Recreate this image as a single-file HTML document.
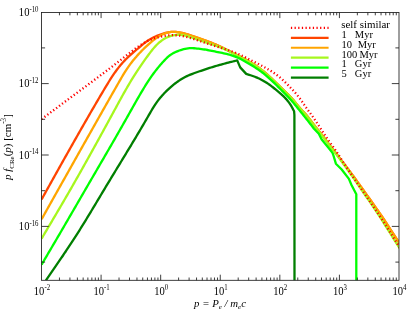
<!DOCTYPE html>
<html>
<head>
<meta charset="utf-8">
<title>CR electron spectrum</title>
<style>
html, body { margin: 0; padding: 0; background: #ffffff; }
body { width: 415px; height: 312px; overflow: hidden; }
svg { display: block; font-family: 'Liberation Serif', serif; will-change: transform; }
text { fill: #000; }
</style>
</head>
<body>
<svg width="415" height="312" viewBox="0 0 415 312">
<rect x="0" y="0" width="415" height="312" fill="#ffffff"/>
<defs><clipPath id="plot"><rect x="41.50" y="12.50" width="357.50" height="267.80"/></clipPath></defs>
<g clip-path="url(#plot)">
<path d="M41.60 199.40 L42.33 198.09 L43.06 196.78 L43.79 195.46 L44.53 194.15 L45.26 192.84 L45.99 191.53 L46.72 190.21 L47.45 188.90 L48.18 187.59 L48.92 186.28 L49.65 184.97 L50.38 183.65 L51.11 182.34 L51.84 181.03 L52.58 179.72 L53.31 178.41 L54.04 177.09 L54.77 175.78 L55.51 174.47 L56.24 173.16 L56.97 171.85 L57.71 170.54 L58.44 169.23 L59.17 167.92 L59.91 166.61 L60.64 165.30 L61.38 163.98 L62.11 162.67 L62.85 161.36 L63.58 160.05 L64.32 158.74 L65.06 157.44 L65.79 156.13 L66.53 154.82 L67.27 153.51 L68.00 152.20 L68.74 150.89 L69.48 149.58 L70.22 148.27 L70.96 146.97 L71.70 145.66 L72.44 144.35 L73.18 143.04 L73.92 141.74 L74.66 140.43 L75.40 139.12 L76.14 137.82 L76.88 136.51 L77.63 135.20 L78.37 133.90 L79.11 132.59 L79.86 131.29 L80.60 129.98 L81.35 128.68 L82.09 127.38 L82.84 126.07 L83.58 124.77 L84.33 123.47 L85.08 122.16 L85.83 120.86 L86.58 119.56 L87.33 118.26 L88.08 116.95 L88.83 115.65 L89.58 114.35 L90.33 113.05 L91.08 111.75 L91.84 110.45 L92.59 109.15 L93.35 107.85 L94.10 106.56 L94.86 105.26 L95.61 103.96 L96.37 102.66 L97.13 101.37 L97.89 100.07 L98.65 98.78 L99.41 97.48 L100.18 96.19 L100.94 94.89 L101.71 93.60 L102.47 92.31 L103.24 91.02 L104.01 89.73 L104.78 88.44 L105.55 87.15 L106.32 85.86 L107.10 84.57 L107.88 83.29 L108.67 82.01 L109.46 80.73 L110.26 79.46 L111.07 78.20 L111.89 76.94 L112.72 75.68 L113.56 74.44 L114.41 73.20 L115.28 71.97 L116.16 70.75 L117.06 69.54 L117.97 68.34 L118.90 67.16 L119.85 65.98 L120.81 64.83 L121.79 63.68 L122.78 62.56 L123.80 61.44 L124.83 60.35 L125.88 59.28 L126.95 58.22 L128.04 57.19 L129.14 56.17 L130.26 55.17 L131.39 54.19 L132.53 53.20 L133.67 52.22 L134.81 51.23 L135.94 50.25 L137.08 49.25 L138.22 48.26 L139.36 47.28 L140.51 46.30 L141.66 45.34 L142.83 44.39 L144.01 43.46 L145.20 42.55 L146.42 41.67 L147.65 40.82 L148.90 40.00 L150.18 39.21 L151.48 38.47 L152.80 37.75 L154.15 37.08 L155.51 36.44 L156.89 35.83 L158.28 35.26 L159.70 34.72 L161.12 34.22 L162.56 33.75 L164.02 33.32 L165.48 32.92 L166.95 32.57 L168.43 32.28 L169.92 32.05 L171.41 31.89 L172.91 31.81 L174.41 31.82 L175.91 31.91 L177.40 32.07 L178.89 32.30 L180.38 32.57 L181.85 32.89 L183.31 33.24 L184.76 33.62 L186.21 34.02 L187.65 34.45 L189.09 34.90 L190.52 35.36 L191.94 35.84 L193.37 36.32 L194.79 36.80 L196.22 37.28 L197.64 37.77 L199.06 38.25 L200.48 38.74 L201.90 39.24 L203.32 39.74 L204.73 40.25 L206.14 40.76 L207.55 41.29 L208.95 41.82 L210.35 42.37 L211.75 42.92 L213.14 43.49 L214.52 44.07 L215.91 44.66 L217.28 45.26 L218.66 45.87 L220.02 46.50 L221.39 47.13 L222.74 47.78 L224.09 48.44 L225.44 49.11 L226.78 49.78 L228.12 50.47 L229.45 51.16 L230.78 51.85 L232.12 52.54 L233.45 53.24 L234.78 53.93 L236.12 54.61 L237.46 55.30 L238.79 55.98 L240.13 56.67 L241.47 57.36 L242.80 58.05 L244.13 58.75 L245.45 59.46 L246.77 60.18 L248.08 60.92 L249.39 61.66 L250.68 62.43 L251.97 63.21 L253.24 64.00 L254.51 64.82 L255.76 65.65 L257.00 66.50 L258.23 67.36 L259.45 68.24 L260.66 69.14 L261.85 70.06 L263.03 70.99 L264.19 71.94 L265.34 72.91 L266.48 73.89 L267.61 74.89 L268.72 75.89 L269.83 76.91 L270.93 77.93 L272.02 78.96 L273.11 80.00 L274.20 81.03 L275.29 82.07 L276.37 83.11 L277.45 84.16 L278.53 85.20 L279.61 86.24 L280.69 87.29 L281.76 88.34 L282.84 89.38 L283.92 90.43 L285.00 91.48 L286.07 92.53 L287.15 93.58 L288.22 94.64 L289.27 95.71 L290.32 96.79 L291.35 97.88 L292.36 98.99 L293.34 100.12 L294.31 101.27 L295.26 102.44 L296.20 103.61 L297.15 104.78 L298.10 105.94 L299.06 107.10 L300.04 108.23 L301.04 109.35 L302.06 110.46 L303.09 111.55 L304.11 112.65 L305.13 113.76 L306.13 114.88 L307.11 116.01 L308.06 117.17 L309.00 118.35 L309.92 119.53 L310.84 120.73 L311.74 121.92 L312.65 123.13 L313.55 124.33 L314.47 125.52 L315.39 126.71 L316.31 127.89 L317.25 129.07 L318.19 130.24 L319.12 131.42 L320.06 132.59 L321.00 133.77 L321.92 134.95 L322.85 136.13 L323.76 137.32 L324.67 138.52 L325.57 139.72 L326.48 140.92 L327.38 142.12 L328.29 143.32 L329.20 144.51 L330.11 145.71 L331.03 146.90 L331.95 148.08 L332.87 149.27 L333.79 150.45 L334.72 151.64 L335.64 152.83 L336.56 154.02 L337.47 155.21 L338.39 156.40 L339.30 157.59 L340.21 158.79 L341.12 159.98 L342.03 161.18 L342.94 162.37 L343.85 163.56 L344.76 164.76 L345.67 165.96 L346.58 167.15 L347.49 168.35 L348.39 169.55 L349.29 170.75 L350.19 171.96 L351.08 173.16 L351.97 174.37 L352.86 175.58 L353.75 176.80 L354.63 178.01 L355.51 179.23 L356.39 180.45 L357.27 181.66 L358.15 182.88 L359.03 184.11 L359.90 185.33 L360.77 186.55 L361.65 187.77 L362.52 188.99 L363.39 190.22 L364.27 191.44 L365.14 192.66 L366.01 193.88 L366.89 195.11 L367.76 196.33 L368.63 197.55 L369.51 198.78 L370.38 200.00 L371.25 201.22 L372.12 202.45 L372.99 203.67 L373.85 204.90 L374.72 206.13 L375.58 207.36 L376.44 208.59 L377.30 209.82 L378.16 211.06 L379.01 212.29 L379.86 213.53 L380.71 214.77 L381.55 216.01 L382.39 217.26 L383.23 218.51 L384.07 219.75 L384.90 221.00 L385.73 222.26 L386.56 223.51 L387.38 224.76 L388.21 226.02 L389.03 227.28 L389.86 228.53 L390.68 229.79 L391.50 231.05 L392.32 232.31 L393.14 233.57 L393.96 234.83 L394.78 236.09 L395.60 237.34 L396.42 238.60 L397.24 239.86 L398.06 241.12 L398.88 242.38 L399.71 243.63 L400.53 244.89 L401.36 246.14 L402.19 247.39 L403.02 248.65 L403.85 249.90" fill="none" stroke="#ff4500" stroke-width="2.30" stroke-linejoin="round" />
<path d="M41.60 219.20 L42.34 217.89 L43.07 216.58 L43.81 215.27 L44.55 213.96 L45.28 212.64 L46.02 211.33 L46.76 210.02 L47.49 208.71 L48.23 207.40 L48.97 206.09 L49.70 204.78 L50.44 203.47 L51.18 202.15 L51.91 200.84 L52.65 199.53 L53.39 198.22 L54.12 196.91 L54.86 195.60 L55.60 194.29 L56.33 192.98 L57.07 191.67 L57.81 190.36 L58.54 189.04 L59.28 187.73 L60.02 186.42 L60.75 185.11 L61.49 183.80 L62.23 182.49 L62.97 181.18 L63.70 179.87 L64.44 178.56 L65.18 177.25 L65.91 175.94 L66.65 174.62 L67.39 173.31 L68.13 172.00 L68.86 170.69 L69.60 169.38 L70.34 168.07 L71.08 166.76 L71.81 165.45 L72.55 164.14 L73.29 162.83 L74.03 161.52 L74.76 160.21 L75.50 158.90 L76.24 157.59 L76.98 156.28 L77.72 154.97 L78.45 153.66 L79.19 152.35 L79.93 151.04 L80.67 149.73 L81.41 148.42 L82.14 147.11 L82.88 145.80 L83.62 144.49 L84.36 143.18 L85.10 141.87 L85.84 140.56 L86.58 139.25 L87.32 137.94 L88.05 136.63 L88.79 135.32 L89.53 134.01 L90.27 132.70 L91.01 131.39 L91.75 130.08 L92.49 128.77 L93.23 127.46 L93.97 126.15 L94.71 124.84 L95.45 123.53 L96.19 122.22 L96.93 120.91 L97.67 119.60 L98.41 118.30 L99.15 116.99 L99.89 115.68 L100.63 114.37 L101.37 113.06 L102.11 111.75 L102.85 110.44 L103.59 109.13 L104.33 107.83 L105.07 106.52 L105.81 105.21 L106.55 103.90 L107.30 102.59 L108.04 101.28 L108.78 99.98 L109.52 98.67 L110.26 97.36 L111.01 96.05 L111.75 94.75 L112.49 93.44 L113.24 92.13 L113.98 90.83 L114.73 89.52 L115.47 88.21 L116.22 86.91 L116.96 85.60 L117.71 84.30 L118.46 82.99 L119.21 81.69 L119.95 80.38 L120.70 79.08 L121.45 77.77 L122.21 76.47 L122.98 75.18 L123.75 73.89 L124.53 72.61 L125.33 71.33 L126.15 70.07 L126.98 68.81 L127.83 67.57 L128.69 66.34 L129.57 65.12 L130.46 63.90 L131.37 62.71 L132.30 61.52 L133.24 60.34 L134.19 59.18 L135.15 58.02 L136.13 56.88 L137.12 55.75 L138.12 54.64 L139.14 53.53 L140.17 52.43 L141.21 51.35 L142.26 50.27 L143.33 49.21 L144.40 48.16 L145.49 47.12 L146.60 46.09 L147.71 45.07 L148.84 44.06 L149.97 43.06 L151.12 42.07 L152.29 41.11 L153.48 40.16 L154.68 39.25 L155.90 38.36 L157.15 37.51 L158.42 36.70 L159.71 35.93 L161.04 35.22 L162.39 34.55 L163.77 33.94 L165.19 33.40 L166.63 32.92 L168.09 32.52 L169.57 32.20 L171.07 31.97 L172.57 31.83 L174.07 31.80 L175.57 31.87 L177.07 32.02 L178.56 32.24 L180.05 32.51 L181.52 32.82 L182.99 33.17 L184.44 33.54 L185.89 33.94 L187.34 34.37 L188.77 34.81 L190.21 35.27 L191.64 35.74 L193.07 36.22 L194.49 36.70 L195.92 37.18 L197.34 37.66 L198.77 38.15 L200.19 38.64 L201.61 39.13 L203.03 39.63 L204.44 40.14 L205.85 40.65 L207.26 41.18 L208.67 41.71 L210.07 42.26 L211.47 42.81 L212.86 43.38 L214.25 43.95 L215.64 44.54 L217.02 45.14 L218.39 45.76 L219.76 46.38 L221.12 47.01 L222.48 47.66 L223.84 48.31 L225.18 48.98 L226.53 49.66 L227.87 50.34 L229.20 51.03 L230.54 51.72 L231.87 52.41 L233.21 53.11 L234.54 53.80 L235.88 54.49 L237.22 55.18 L238.56 55.86 L239.89 56.55 L241.23 57.24 L242.57 57.93 L243.90 58.63 L245.22 59.34 L246.54 60.06 L247.86 60.79 L249.16 61.54 L250.46 62.30 L251.75 63.08 L253.03 63.87 L254.30 64.68 L255.55 65.51 L256.80 66.36 L258.03 67.22 L259.26 68.10 L260.47 69.00 L261.66 69.91 L262.84 70.84 L264.01 71.79 L265.16 72.76 L266.30 73.74 L267.43 74.73 L268.55 75.74 L269.66 76.75 L270.76 77.78 L271.86 78.81 L272.95 79.84 L274.04 80.88 L275.13 81.92 L276.21 82.96 L277.29 84.00 L278.38 85.05 L279.46 86.09 L280.53 87.14 L281.61 88.19 L282.69 89.24 L283.77 90.29 L284.85 91.34 L285.93 92.39 L287.00 93.44 L288.07 94.50 L289.13 95.56 L290.18 96.64 L291.22 97.73 L292.23 98.84 L293.22 99.98 L294.19 101.12 L295.14 102.29 L296.09 103.46 L297.03 104.63 L297.98 105.80 L298.94 106.96 L299.92 108.10 L300.92 109.22 L301.94 110.32 L302.97 111.42 L303.99 112.52 L305.01 113.63 L306.02 114.74 L307.00 115.88 L307.96 117.04 L308.90 118.21 L309.82 119.40 L310.74 120.59 L311.64 121.79 L312.55 123.00 L313.46 124.20 L314.37 125.40 L315.29 126.59 L316.22 127.77 L317.15 128.95 L318.09 130.12 L319.03 131.30 L319.97 132.47 L320.90 133.65 L321.83 134.83 L322.76 136.02 L323.67 137.21 L324.58 138.41 L325.49 139.61 L326.39 140.81 L327.30 142.01 L328.20 143.21 L329.11 144.41 L330.03 145.60 L330.95 146.79 L331.87 147.98 L332.79 149.17 L333.71 150.35 L334.64 151.54 L335.56 152.73 L336.48 153.92 L337.40 155.11 L338.31 156.30 L339.23 157.50 L340.14 158.69 L341.05 159.89 L341.96 161.09 L342.87 162.28 L343.79 163.48 L344.70 164.67 L345.61 165.87 L346.52 167.07 L347.42 168.27 L348.33 169.47 L349.23 170.67 L350.13 171.88 L351.02 173.09 L351.92 174.30 L352.81 175.51 L353.69 176.72 L354.58 177.94 L355.46 179.16 L356.34 180.37 L357.22 181.59 L358.10 182.82 L358.98 184.04 L359.85 185.26 L360.73 186.48 L361.60 187.71 L362.48 188.93 L363.35 190.16 L364.22 191.38 L365.10 192.60 L365.97 193.83 L366.85 195.05 L367.72 196.27 L368.60 197.50 L369.47 198.72 L370.34 199.95 L371.21 201.17 L372.08 202.40 L372.95 203.63 L373.82 204.86 L374.69 206.09 L375.55 207.32 L376.41 208.55 L377.27 209.78 L378.13 211.02 L378.98 212.25 L379.83 213.49 L380.68 214.74 L381.53 215.98 L382.37 217.23 L383.21 218.47 L384.05 219.72 L384.88 220.97 L385.71 222.23 L386.54 223.48 L387.37 224.74 L388.19 225.99 L389.02 227.25 L389.84 228.51 L390.66 229.77 L391.48 231.03 L392.30 232.29 L393.13 233.55 L393.95 234.81 L394.77 236.07 L395.59 237.33 L396.41 238.59 L397.23 239.85 L398.05 241.11 L398.88 242.37 L399.70 243.63 L400.53 244.88 L401.36 246.14 L402.19 247.39 L403.02 248.65 L403.85 249.90" fill="none" stroke="#ffa500" stroke-width="2.30" stroke-linejoin="round" />
<path d="M41.60 238.60 L42.37 237.31 L43.13 236.02 L43.90 234.72 L44.67 233.43 L45.43 232.14 L46.20 230.84 L46.96 229.55 L47.73 228.26 L48.50 226.97 L49.26 225.67 L50.03 224.38 L50.79 223.09 L51.56 221.79 L52.32 220.50 L53.09 219.21 L53.85 217.91 L54.61 216.62 L55.38 215.32 L56.14 214.03 L56.90 212.73 L57.66 211.44 L58.42 210.14 L59.18 208.85 L59.94 207.55 L60.70 206.26 L61.46 204.96 L62.22 203.66 L62.98 202.36 L63.73 201.07 L64.49 199.77 L65.25 198.47 L66.00 197.17 L66.75 195.87 L67.51 194.57 L68.26 193.27 L69.01 191.97 L69.76 190.67 L70.51 189.37 L71.26 188.07 L72.01 186.76 L72.76 185.46 L73.50 184.16 L74.25 182.85 L74.99 181.55 L75.74 180.25 L76.48 178.94 L77.22 177.63 L77.96 176.33 L78.70 175.02 L79.44 173.71 L80.18 172.41 L80.92 171.10 L81.66 169.79 L82.39 168.48 L83.13 167.17 L83.86 165.86 L84.60 164.55 L85.33 163.24 L86.06 161.93 L86.80 160.62 L87.53 159.31 L88.26 158.00 L88.99 156.68 L89.72 155.37 L90.45 154.06 L91.18 152.74 L91.91 151.43 L92.63 150.12 L93.36 148.80 L94.09 147.49 L94.81 146.17 L95.54 144.86 L96.27 143.54 L96.99 142.23 L97.72 140.91 L98.44 139.59 L99.16 138.28 L99.89 136.96 L100.61 135.64 L101.33 134.32 L102.05 133.01 L102.78 131.69 L103.50 130.37 L104.22 129.05 L104.94 127.73 L105.66 126.41 L106.38 125.09 L107.10 123.77 L107.82 122.45 L108.54 121.13 L109.26 119.81 L109.98 118.49 L110.70 117.17 L111.42 115.85 L112.14 114.53 L112.85 113.21 L113.57 111.89 L114.29 110.57 L115.01 109.25 L115.73 107.93 L116.45 106.60 L117.17 105.28 L117.89 103.96 L118.61 102.64 L119.33 101.32 L120.05 100.00 L120.78 98.69 L121.50 97.37 L122.23 96.06 L122.97 94.74 L123.70 93.43 L124.44 92.12 L125.18 90.81 L125.92 89.51 L126.67 88.20 L127.42 86.90 L128.18 85.60 L128.94 84.31 L129.70 83.01 L130.47 81.72 L131.24 80.44 L132.02 79.15 L132.81 77.87 L133.60 76.60 L134.40 75.32 L135.20 74.05 L136.01 72.79 L136.82 71.53 L137.65 70.27 L138.48 69.02 L139.31 67.77 L140.16 66.53 L141.00 65.29 L141.86 64.06 L142.72 62.83 L143.59 61.60 L144.46 60.38 L145.34 59.16 L146.22 57.94 L147.11 56.72 L148.00 55.51 L148.90 54.31 L149.80 53.10 L150.71 51.90 L151.63 50.71 L152.56 49.54 L153.52 48.38 L154.50 47.24 L155.51 46.13 L156.55 45.04 L157.62 43.98 L158.73 42.96 L159.87 41.98 L161.05 41.04 L162.27 40.16 L163.52 39.32 L164.81 38.55 L166.14 37.83 L167.49 37.18 L168.88 36.60 L170.31 36.09 L171.76 35.67 L173.23 35.32 L174.72 35.05 L176.22 34.87 L177.73 34.78 L179.23 34.77 L180.73 34.85 L182.22 35.02 L183.69 35.26 L185.16 35.56 L186.62 35.93 L188.07 36.34 L189.52 36.79 L190.96 37.26 L192.39 37.76 L193.83 38.26 L195.25 38.77 L196.68 39.26 L198.10 39.76 L199.53 40.25 L200.95 40.73 L202.37 41.22 L203.79 41.70 L205.21 42.17 L206.63 42.65 L208.05 43.12 L209.48 43.59 L210.90 44.06 L212.33 44.53 L213.75 45.01 L215.18 45.50 L216.60 45.99 L218.02 46.50 L219.43 47.02 L220.83 47.55 L222.22 48.11 L223.61 48.69 L224.98 49.29 L226.35 49.91 L227.71 50.55 L229.06 51.21 L230.41 51.87 L231.75 52.55 L233.09 53.23 L234.43 53.91 L235.77 54.59 L237.12 55.28 L238.45 55.96 L239.79 56.64 L241.13 57.33 L242.46 58.02 L243.79 58.72 L245.11 59.43 L246.43 60.16 L247.74 60.89 L249.05 61.64 L250.34 62.40 L251.63 63.18 L252.90 63.97 L254.17 64.78 L255.43 65.61 L256.67 66.46 L257.91 67.32 L259.13 68.20 L260.34 69.09 L261.53 70.01 L262.71 70.94 L263.88 71.88 L265.03 72.85 L266.17 73.83 L267.30 74.82 L268.42 75.82 L269.52 76.84 L270.63 77.86 L271.72 78.89 L272.81 79.93 L273.90 80.96 L274.98 82.00 L276.07 83.04 L277.15 84.08 L278.23 85.13 L279.31 86.17 L280.39 87.22 L281.47 88.26 L282.54 89.31 L283.62 90.36 L284.70 91.41 L285.77 92.46 L286.85 93.51 L287.92 94.57 L288.98 95.63 L290.03 96.71 L291.06 97.80 L292.07 98.91 L293.06 100.03 L294.03 101.18 L294.99 102.34 L295.93 103.51 L296.87 104.68 L297.82 105.85 L298.78 107.01 L299.76 108.15 L300.75 109.27 L301.77 110.38 L302.79 111.48 L303.82 112.58 L304.83 113.69 L305.83 114.81 L306.81 115.95 L307.76 117.11 L308.70 118.28 L309.62 119.47 L310.53 120.66 L311.44 121.86 L312.34 123.07 L313.24 124.27 L314.15 125.47 L315.06 126.66 L315.99 127.85 L316.92 129.03 L317.85 130.20 L318.79 131.38 L319.72 132.56 L320.65 133.73 L321.58 134.92 L322.50 136.11 L323.41 137.30 L324.32 138.50 L325.22 139.70 L326.12 140.90 L327.02 142.11 L327.92 143.31 L328.83 144.50 L329.74 145.70 L330.65 146.89 L331.57 148.08 L332.49 149.27 L333.41 150.46 L334.32 151.65 L335.23 152.85 L336.14 154.05 L337.03 155.25 L337.92 156.46 L338.81 157.68 L339.69 158.89 L340.58 160.11 L341.46 161.32 L342.35 162.53 L343.24 163.75 L344.12 164.96 L345.01 166.17 L345.89 167.39 L346.77 168.60 L347.65 169.82 L348.53 171.04 L349.40 172.26 L350.27 173.49 L351.14 174.72 L352.00 175.94 L352.87 177.18 L353.73 178.41 L354.58 179.64 L355.44 180.88 L356.29 182.11 L357.14 183.35 L357.99 184.59 L358.84 185.83 L359.69 187.07 L360.54 188.31 L361.39 189.55 L362.24 190.79 L363.09 192.03 L363.94 193.27 L364.79 194.51 L365.64 195.75 L366.48 196.99 L367.33 198.23 L368.18 199.47 L369.03 200.71 L369.87 201.95 L370.72 203.19 L371.56 204.44 L372.40 205.68 L373.24 206.93 L374.08 208.17 L374.92 209.42 L375.75 210.67 L376.58 211.93 L377.41 213.18 L378.23 214.44 L379.05 215.69 L379.87 216.95 L380.68 218.22 L381.50 219.48 L382.31 220.74 L383.11 222.01 L383.92 223.28 L384.72 224.55 L385.52 225.82 L386.32 227.09 L387.12 228.37 L387.92 229.64 L388.71 230.91 L389.51 232.19 L390.31 233.46 L391.10 234.74 L391.90 236.01 L392.69 237.29 L393.49 238.56 L394.28 239.84 L395.08 241.11 L395.88 242.38 L396.68 243.65 L397.48 244.92 L398.29 246.19 L399.09 247.46 L399.89 248.73 L400.70 250.00" fill="none" stroke="#a6f71e" stroke-width="2.30" stroke-linejoin="round" />
<path d="M41.60 264.60 L42.36 263.31 L43.12 262.01 L43.89 260.72 L44.65 259.43 L45.41 258.14 L46.17 256.84 L46.93 255.55 L47.69 254.26 L48.46 252.96 L49.22 251.67 L49.98 250.38 L50.74 249.08 L51.50 247.79 L52.26 246.50 L53.02 245.20 L53.78 243.91 L54.54 242.62 L55.30 241.32 L56.06 240.03 L56.82 238.73 L57.57 237.44 L58.33 236.14 L59.09 234.85 L59.85 233.55 L60.60 232.26 L61.36 230.96 L62.12 229.66 L62.87 228.37 L63.63 227.07 L64.38 225.78 L65.14 224.48 L65.89 223.18 L66.64 221.88 L67.40 220.59 L68.15 219.29 L68.91 217.99 L69.66 216.69 L70.41 215.40 L71.17 214.10 L71.92 212.80 L72.67 211.50 L73.42 210.21 L74.18 208.91 L74.93 207.61 L75.68 206.31 L76.43 205.01 L77.19 203.71 L77.94 202.42 L78.69 201.12 L79.44 199.82 L80.20 198.52 L80.95 197.22 L81.70 195.93 L82.45 194.63 L83.21 193.33 L83.96 192.03 L84.71 190.73 L85.47 189.44 L86.22 188.14 L86.97 186.84 L87.73 185.54 L88.48 184.24 L89.24 182.95 L89.99 181.65 L90.75 180.35 L91.50 179.05 L92.25 177.76 L93.01 176.46 L93.76 175.16 L94.52 173.87 L95.27 172.57 L96.03 171.27 L96.78 169.97 L97.54 168.68 L98.29 167.38 L99.05 166.08 L99.80 164.78 L100.56 163.49 L101.31 162.19 L102.06 160.89 L102.82 159.59 L103.57 158.30 L104.32 157.00 L105.08 155.70 L105.83 154.40 L106.58 153.10 L107.33 151.80 L108.09 150.51 L108.84 149.21 L109.59 147.91 L110.34 146.61 L111.09 145.31 L111.84 144.01 L112.59 142.71 L113.34 141.41 L114.09 140.11 L114.84 138.81 L115.59 137.51 L116.33 136.21 L117.08 134.91 L117.83 133.60 L118.57 132.30 L119.32 131.00 L120.06 129.70 L120.80 128.40 L121.55 127.09 L122.29 125.79 L123.03 124.49 L123.77 123.18 L124.51 121.88 L125.25 120.57 L125.99 119.27 L126.73 117.96 L127.47 116.65 L128.20 115.35 L128.94 114.04 L129.67 112.73 L130.41 111.43 L131.14 110.12 L131.88 108.81 L132.61 107.51 L133.35 106.20 L134.09 104.89 L134.83 103.59 L135.57 102.28 L136.31 100.98 L137.05 99.68 L137.80 98.37 L138.55 97.07 L139.31 95.78 L140.06 94.48 L140.82 93.18 L141.59 91.89 L142.36 90.60 L143.13 89.31 L143.91 88.02 L144.69 86.74 L145.49 85.46 L146.28 84.19 L147.09 82.92 L147.90 81.66 L148.73 80.40 L149.56 79.15 L150.40 77.91 L151.25 76.67 L152.12 75.45 L152.99 74.23 L153.87 73.02 L154.77 71.82 L155.68 70.63 L156.61 69.45 L157.55 68.29 L158.50 67.13 L159.46 65.98 L160.44 64.84 L161.42 63.71 L162.42 62.58 L163.43 61.46 L164.46 60.35 L165.50 59.26 L166.57 58.19 L167.66 57.16 L168.80 56.18 L169.97 55.26 L171.19 54.40 L172.46 53.61 L173.77 52.89 L175.12 52.23 L176.50 51.62 L177.91 51.06 L179.33 50.53 L180.77 50.04 L182.21 49.59 L183.67 49.18 L185.13 48.83 L186.61 48.54 L188.09 48.33 L189.57 48.20 L191.07 48.15 L192.57 48.18 L194.07 48.26 L195.57 48.39 L197.07 48.54 L198.57 48.70 L200.06 48.87 L201.54 49.06 L203.03 49.27 L204.51 49.49 L205.99 49.74 L207.46 50.00 L208.94 50.27 L210.41 50.55 L211.88 50.85 L213.35 51.15 L214.82 51.45 L216.29 51.76 L217.77 52.07 L219.24 52.37 L220.72 52.68 L222.19 52.99 L223.67 53.31 L225.14 53.64 L226.60 53.98 L228.06 54.34 L229.51 54.73 L230.95 55.14 L232.38 55.58 L233.80 56.06 L235.20 56.58 L236.58 57.13 L237.96 57.73 L239.31 58.36 L240.66 59.01 L242.00 59.70 L243.32 60.41 L244.64 61.14 L245.95 61.89 L247.25 62.65 L248.55 63.43 L249.84 64.20 L251.13 64.99 L252.41 65.78 L253.69 66.57 L254.96 67.38 L256.22 68.19 L257.47 69.02 L258.71 69.86 L259.94 70.72 L261.15 71.60 L262.35 72.50 L263.54 73.41 L264.70 74.35 L265.86 75.31 L266.99 76.29 L268.12 77.28 L269.23 78.29 L270.33 79.31 L271.43 80.34 L272.52 81.37 L273.60 82.41 L274.68 83.45 L275.76 84.50 L276.83 85.55 L277.90 86.60 L278.96 87.66 L280.03 88.72 L281.09 89.78 L282.15 90.84 L283.21 91.91 L284.26 92.97 L285.32 94.04 L286.37 95.11 L287.42 96.19 L288.45 97.27 L289.48 98.37 L290.49 99.48 L291.48 100.60 L292.47 101.73 L293.44 102.88 L294.40 104.03 L295.35 105.19 L296.30 106.35 L297.25 107.52 L298.19 108.68 L299.14 109.85 L300.08 111.01 L301.03 112.18 L301.97 113.35 L302.91 114.51 L303.85 115.69 L304.78 116.86 L305.71 118.04 L306.64 119.22 L307.57 120.40 L308.49 121.58 L309.41 122.76 L310.33 123.95 L311.25 125.14 L312.17 126.32 L313.08 127.51 L314.00 128.70 L318.80 133.80 L321.70 139.60 L328.90 148.20 L332.50 152.90 L333.30 155.00 L335.90 163.70 L341.70 169.50 L348.90 178.90 L351.50 185.00 L356.30 194.30 L356.30 281.00" fill="none" stroke="#00ff00" stroke-width="2.30" stroke-linejoin="round" />
<path d="M45.90 280.30 L46.76 279.06 L47.62 277.82 L48.48 276.59 L49.34 275.35 L50.20 274.11 L51.05 272.87 L51.91 271.63 L52.77 270.39 L53.63 269.15 L54.48 267.91 L55.34 266.67 L56.19 265.43 L57.04 264.19 L57.90 262.95 L58.75 261.71 L59.60 260.46 L60.45 259.22 L61.30 257.97 L62.14 256.73 L62.99 255.48 L63.83 254.23 L64.67 252.98 L65.52 251.73 L66.35 250.48 L67.19 249.23 L68.03 247.98 L68.86 246.72 L69.69 245.47 L70.52 244.21 L71.35 242.95 L72.17 241.69 L73.00 240.43 L73.82 239.17 L74.63 237.90 L75.45 236.64 L76.26 235.37 L77.07 234.10 L77.88 232.83 L78.69 231.56 L79.49 230.28 L80.29 229.01 L81.09 227.73 L81.88 226.45 L82.68 225.17 L83.47 223.89 L84.26 222.61 L85.05 221.32 L85.84 220.04 L86.62 218.75 L87.40 217.47 L88.19 216.18 L88.97 214.89 L89.75 213.60 L90.53 212.31 L91.30 211.02 L92.08 209.73 L92.86 208.44 L93.63 207.15 L94.41 205.86 L95.18 204.57 L95.96 203.27 L96.73 201.98 L97.50 200.69 L98.28 199.39 L99.05 198.10 L99.82 196.81 L100.59 195.52 L101.37 194.22 L102.14 192.93 L102.92 191.64 L103.69 190.35 L104.47 189.05 L105.24 187.76 L106.02 186.47 L106.80 185.18 L107.57 183.89 L108.35 182.60 L109.13 181.32 L109.91 180.03 L110.69 178.74 L111.47 177.45 L112.26 176.17 L113.04 174.88 L113.82 173.59 L114.60 172.30 L115.38 171.02 L116.17 169.73 L116.95 168.45 L117.73 167.16 L118.52 165.87 L119.30 164.59 L120.08 163.30 L120.87 162.02 L121.65 160.73 L122.43 159.44 L123.22 158.16 L124.00 156.87 L124.78 155.58 L125.56 154.30 L126.34 153.01 L127.12 151.72 L127.90 150.43 L128.68 149.15 L129.46 147.86 L130.24 146.57 L131.02 145.28 L131.80 143.99 L132.58 142.70 L133.35 141.41 L134.13 140.12 L134.90 138.82 L135.68 137.53 L136.45 136.24 L137.22 134.95 L137.99 133.65 L138.76 132.36 L139.53 131.06 L140.30 129.76 L141.06 128.46 L141.83 127.17 L142.59 125.87 L143.35 124.57 L144.12 123.27 L144.87 121.96 L145.63 120.66 L146.39 119.36 L147.14 118.05 L147.90 116.74 L148.65 115.44 L149.40 114.13 L150.15 112.82 L150.90 111.51 L151.66 110.21 L152.43 108.92 L153.22 107.63 L154.01 106.35 L154.83 105.08 L155.66 103.83 L156.52 102.60 L157.41 101.38 L158.32 100.18 L159.25 98.99 L160.21 97.83 L161.18 96.68 L162.18 95.54 L163.19 94.43 L164.22 93.33 L165.27 92.24 L166.33 91.18 L167.41 90.13 L168.51 89.09 L169.62 88.07 L170.75 87.07 L171.89 86.08 L173.04 85.12 L174.21 84.17 L175.40 83.24 L176.61 82.33 L177.83 81.46 L179.08 80.60 L180.34 79.78 L181.63 78.99 L182.93 78.23 L184.25 77.50 L185.59 76.81 L186.94 76.15 L188.31 75.51 L189.70 74.92 L191.09 74.35 L192.50 73.81 L193.91 73.29 L195.33 72.78 L196.75 72.28 L198.17 71.78 L199.59 71.28 L201.02 70.79 L202.44 70.30 L203.87 69.81 L205.30 69.33 L206.73 68.86 L208.16 68.40 L209.59 67.94 L211.03 67.49 L212.47 67.04 L213.91 66.61 L215.36 66.18 L216.80 65.76 L218.25 65.34 L219.70 64.93 L221.15 64.53 L222.61 64.14 L224.06 63.75 L225.52 63.36 L226.98 62.98 L228.43 62.61 L229.89 62.23 L231.35 61.86 L232.82 61.50 L234.28 61.13 L235.74 60.76 L237.20 60.40 L240.20 67.40 L246.20 73.90 L247.66 74.35 L249.11 74.80 L250.57 75.27 L252.01 75.75 L253.45 76.25 L254.88 76.77 L256.29 77.33 L257.70 77.93 L259.08 78.56 L260.45 79.23 L261.81 79.93 L263.14 80.66 L264.46 81.43 L265.76 82.23 L267.04 83.05 L268.31 83.90 L269.55 84.78 L270.78 85.67 L271.99 86.60 L273.19 87.53 L274.38 88.49 L275.56 89.45 L276.74 90.42 L277.91 91.39 L279.08 92.37 L280.24 93.36 L281.39 94.36 L282.51 95.38 L283.62 96.43 L284.70 97.51 L285.75 98.61 L286.77 99.75 L287.75 100.93 L288.68 102.13 L289.58 103.37 L290.42 104.63 L291.22 105.93 L291.97 107.25 L292.70 108.59 L293.40 109.94 L294.10 111.30 L294.40 115.00 L294.50 281.00" fill="none" stroke="#007f00" stroke-width="2.30" stroke-linejoin="round" />
<path d="M41.50 119.20 L42.71 118.30 L43.91 117.41 L45.12 116.51 L46.32 115.61 L47.53 114.71 L48.73 113.82 L49.94 112.92 L51.14 112.02 L52.35 111.13 L53.55 110.23 L54.76 109.33 L55.97 108.44 L57.17 107.54 L58.38 106.64 L59.58 105.75 L60.79 104.85 L62.00 103.95 L63.20 103.06 L64.41 102.16 L65.62 101.27 L66.82 100.37 L68.03 99.47 L69.24 98.58 L70.44 97.68 L71.65 96.79 L72.86 95.89 L74.06 95.00 L75.27 94.10 L76.48 93.21 L77.69 92.31 L78.90 91.42 L80.10 90.52 L81.31 89.63 L82.52 88.73 L83.73 87.84 L84.94 86.95 L86.15 86.05 L87.36 85.16 L88.57 84.26 L89.77 83.37 L90.98 82.47 L92.19 81.57 L93.40 80.68 L94.60 79.78 L95.81 78.88 L97.02 77.99 L98.22 77.09 L99.43 76.19 L100.63 75.29 L101.83 74.39 L103.03 73.48 L104.24 72.58 L105.44 71.67 L106.63 70.77 L107.83 69.86 L109.03 68.95 L110.22 68.04 L111.42 67.13 L112.61 66.22 L113.80 65.30 L114.99 64.39 L116.18 63.47 L117.37 62.55 L118.55 61.63 L119.74 60.71 L120.92 59.78 L122.10 58.86 L123.28 57.93 L124.46 57.00 L125.64 56.07 L126.82 55.15 L128.01 54.23 L129.20 53.31 L130.39 52.39 L131.59 51.48 L132.79 50.57 L134.00 49.67 L135.21 48.78 L136.43 47.89 L137.67 47.02 L138.91 46.16 L140.16 45.32 L141.43 44.50 L142.71 43.71 L144.00 42.94 L145.31 42.20 L146.63 41.50 L147.98 40.83 L149.34 40.20 L150.72 39.62 L152.12 39.07 L153.53 38.57 L154.96 38.10 L156.41 37.67 L157.86 37.28 L159.33 36.92 L160.81 36.59 L162.29 36.30 L163.78 36.04 L165.28 35.81 L166.78 35.61 L168.28 35.45 L169.79 35.32 L171.29 35.24 L172.80 35.19 L174.30 35.19 L175.80 35.24 L177.30 35.34 L178.79 35.48 L180.28 35.68 L181.76 35.92 L183.23 36.20 L184.70 36.52 L186.16 36.87 L187.62 37.25 L189.08 37.65 L190.53 38.07 L191.98 38.51 L193.42 38.96 L194.86 39.41 L196.29 39.87 L197.73 40.34 L199.16 40.80 L200.59 41.27 L202.01 41.74 L203.44 42.21 L204.86 42.68 L206.29 43.15 L207.72 43.61 L209.14 44.08 L210.57 44.54 L212.00 45.00 L213.43 45.45 L214.86 45.91 L216.30 46.36 L217.73 46.81 L219.16 47.27 L220.60 47.72 L222.03 48.17 L223.47 48.62 L224.90 49.08 L226.34 49.53 L227.77 50.00 L229.19 50.47 L230.62 50.96 L232.03 51.47 L233.44 51.99 L234.84 52.53 L236.23 53.10 L237.60 53.70 L238.98 54.31 L240.34 54.94 L241.70 55.59 L243.05 56.25 L244.40 56.92 L245.74 57.59 L247.08 58.27 L248.42 58.95 L249.77 59.63 L251.11 60.31 L252.45 60.99 L253.79 61.66 L255.13 62.34 L256.47 63.02 L257.81 63.70 L259.15 64.38 L260.48 65.08 L261.81 65.78 L263.14 66.49 L264.46 67.21 L265.78 67.94 L267.09 68.68 L268.39 69.44 L269.68 70.21 L270.97 71.00 L272.24 71.81 L273.49 72.64 L274.74 73.49 L275.96 74.36 L277.17 75.25 L278.36 76.16 L279.52 77.11 L280.67 78.07 L281.80 79.06 L282.92 80.07 L284.01 81.09 L285.10 82.14 L286.17 83.19 L287.23 84.26 L288.29 85.34 L289.33 86.42 L290.37 87.52 L291.41 88.61 L292.43 89.71 L293.46 90.82 L294.47 91.93 L295.47 93.05 L296.45 94.19 L297.41 95.34 L298.35 96.51 L299.27 97.70 L300.16 98.91 L301.03 100.13 L301.90 101.36 L302.75 102.60 L303.59 103.84 L304.44 105.09 L305.29 106.33 L306.15 107.57 L307.02 108.79 L307.89 110.01 L308.78 111.23 L309.67 112.44 L310.55 113.65 L311.44 114.87 L312.32 116.08 L313.19 117.31 L314.05 118.54 L314.90 119.78 L315.74 121.02 L316.58 122.27 L317.40 123.53 L318.22 124.79 L319.04 126.05 L319.85 127.32 L320.66 128.58 L321.47 129.85 L322.29 131.11 L323.10 132.37 L323.92 133.63 L324.75 134.89 L325.58 136.14 L326.41 137.39 L327.26 138.64 L328.11 139.87 L328.97 141.10 L329.84 142.33 L330.72 143.55 L331.61 144.77 L332.49 145.98 L333.37 147.20 L334.24 148.42 L335.11 149.65 L335.96 150.89 L336.79 152.14 L337.62 153.39 L338.43 154.66 L339.24 155.93 L340.04 157.20 L340.84 158.47 L341.64 159.74 L342.44 161.01 L343.25 162.28 L344.07 163.54 L344.89 164.80 L345.71 166.06 L346.54 167.31 L347.37 168.56 L348.21 169.81 L349.04 171.06 L349.88 172.31 L350.72 173.56 L351.56 174.80 L352.41 176.04 L353.25 177.29 L354.10 178.53 L354.95 179.77 L355.80 181.01 L356.65 182.25 L357.50 183.49 L358.35 184.72 L359.20 185.96 L360.05 187.20 L360.91 188.44 L361.76 189.67 L362.62 190.91 L363.47 192.15 L364.32 193.38 L365.18 194.62 L366.03 195.86 L366.88 197.10 L367.74 198.33 L368.59 199.57 L369.44 200.81 L370.29 202.05 L371.13 203.29 L371.98 204.54 L372.83 205.78 L373.67 207.02 L374.51 208.27 L375.35 209.51 L376.19 210.76 L377.02 212.01 L377.85 213.26 L378.68 214.52 L379.51 215.77 L380.33 217.03 L381.15 218.29 L381.97 219.55 L382.79 220.81 L383.60 222.07 L384.42 223.33 L385.23 224.60 L386.04 225.87 L386.84 227.13 L387.65 228.40 L388.46 229.67 L389.26 230.94 L390.06 232.21 L390.87 233.48 L391.67 234.75 L392.47 236.02 L393.27 237.30 L394.07 238.57 L394.87 239.84 L395.68 241.11 L396.48 242.38 L397.28 243.65 L398.08 244.92 L398.89 246.19 L399.69 247.46 L400.50 248.73 L401.30 250.00" fill="none" stroke="#ff0000" stroke-width="2.30" stroke-linejoin="round" stroke-dasharray="1.25 2.4"/>
</g>
<g>
<rect x="41.50" y="12.50" width="357.50" height="267.80" fill="none" stroke="#1c1c1c" stroke-width="0.85"/>
<path d="M59.44 280.30 v-2.80 M59.44 12.50 v2.80 M69.93 280.30 v-2.80 M69.93 12.50 v2.80 M77.37 280.30 v-2.80 M77.37 12.50 v2.80 M83.15 280.30 v-2.80 M83.15 12.50 v2.80 M87.86 280.30 v-2.80 M87.86 12.50 v2.80 M91.85 280.30 v-2.80 M91.85 12.50 v2.80 M95.31 280.30 v-2.80 M95.31 12.50 v2.80 M98.36 280.30 v-2.80 M98.36 12.50 v2.80 M101.08 280.30 v-5.60 M101.08 12.50 v5.60 M119.02 280.30 v-2.80 M119.02 12.50 v2.80 M129.51 280.30 v-2.80 M129.51 12.50 v2.80 M136.96 280.30 v-2.80 M136.96 12.50 v2.80 M142.73 280.30 v-2.80 M142.73 12.50 v2.80 M147.45 280.30 v-2.80 M147.45 12.50 v2.80 M151.44 280.30 v-2.80 M151.44 12.50 v2.80 M154.89 280.30 v-2.80 M154.89 12.50 v2.80 M157.94 280.30 v-2.80 M157.94 12.50 v2.80 M160.67 280.30 v-5.60 M160.67 12.50 v5.60 M178.60 280.30 v-2.80 M178.60 12.50 v2.80 M189.10 280.30 v-2.80 M189.10 12.50 v2.80 M196.54 280.30 v-2.80 M196.54 12.50 v2.80 M202.31 280.30 v-2.80 M202.31 12.50 v2.80 M207.03 280.30 v-2.80 M207.03 12.50 v2.80 M211.02 280.30 v-2.80 M211.02 12.50 v2.80 M214.48 280.30 v-2.80 M214.48 12.50 v2.80 M217.52 280.30 v-2.80 M217.52 12.50 v2.80 M220.25 280.30 v-5.60 M220.25 12.50 v5.60 M238.19 280.30 v-2.80 M238.19 12.50 v2.80 M248.68 280.30 v-2.80 M248.68 12.50 v2.80 M256.12 280.30 v-2.80 M256.12 12.50 v2.80 M261.90 280.30 v-2.80 M261.90 12.50 v2.80 M266.61 280.30 v-2.80 M266.61 12.50 v2.80 M270.60 280.30 v-2.80 M270.60 12.50 v2.80 M274.06 280.30 v-2.80 M274.06 12.50 v2.80 M277.11 280.30 v-2.80 M277.11 12.50 v2.80 M279.83 280.30 v-5.60 M279.83 12.50 v5.60 M297.77 280.30 v-2.80 M297.77 12.50 v2.80 M308.26 280.30 v-2.80 M308.26 12.50 v2.80 M315.71 280.30 v-2.80 M315.71 12.50 v2.80 M321.48 280.30 v-2.80 M321.48 12.50 v2.80 M326.20 280.30 v-2.80 M326.20 12.50 v2.80 M330.19 280.30 v-2.80 M330.19 12.50 v2.80 M333.64 280.30 v-2.80 M333.64 12.50 v2.80 M336.69 280.30 v-2.80 M336.69 12.50 v2.80 M339.42 280.30 v-5.60 M339.42 12.50 v5.60 M357.35 280.30 v-2.80 M357.35 12.50 v2.80 M367.85 280.30 v-2.80 M367.85 12.50 v2.80 M375.29 280.30 v-2.80 M375.29 12.50 v2.80 M381.06 280.30 v-2.80 M381.06 12.50 v2.80 M385.78 280.30 v-2.80 M385.78 12.50 v2.80 M389.77 280.30 v-2.80 M389.77 12.50 v2.80 M393.23 280.30 v-2.80 M393.23 12.50 v2.80 M396.27 280.30 v-2.80 M396.27 12.50 v2.80 M41.50 262.10 h3.60 M399.00 262.10 h-3.60 M41.50 226.40 h7.20 M399.00 226.40 h-7.20 M41.50 190.70 h3.60 M399.00 190.70 h-3.60 M41.50 155.00 h7.20 M399.00 155.00 h-7.20 M41.50 119.30 h3.60 M399.00 119.30 h-3.60 M41.50 83.60 h7.20 M399.00 83.60 h-7.20 M41.50 47.90 h3.60 M399.00 47.90 h-3.60" stroke="#1c1c1c" stroke-width="0.85" fill="none"/>
</g>
<g opacity="0.999">
<path d="M290.90 27.90 H328.60" stroke="#ff0000" stroke-width="2.2" stroke-dasharray="1.25 2.4"/>
<path d="M290.90 37.83 H328.60" stroke="#ff4500" stroke-width="2.2"/>
<path d="M290.90 47.76 H328.60" stroke="#ffa500" stroke-width="2.2"/>
<path d="M290.90 57.69 H328.60" stroke="#a6f71e" stroke-width="2.2"/>
<path d="M290.90 67.62 H328.60" stroke="#00ff00" stroke-width="2.2"/>
<path d="M290.90 77.55 H328.60" stroke="#007f00" stroke-width="2.2"/>
<text x="341.2" y="27.80" font-size="10.50" textLength="48.8" lengthAdjust="spacingAndGlyphs">self similar</text>
<text x="341.5" y="37.70" font-size="10.50">1</text>
<text x="354.80" y="37.70" font-size="10.50">Myr</text>
<text x="341.5" y="47.60" font-size="10.50">10</text>
<text x="357.70" y="47.60" font-size="10.50">Myr</text>
<text x="341.5" y="57.50" font-size="10.50">100</text>
<text x="359.50" y="57.50" font-size="10.50">Myr</text>
<text x="341.5" y="67.40" font-size="10.50">1</text>
<text x="354.80" y="67.40" font-size="10.50">Gyr</text>
<text x="341.5" y="77.30" font-size="10.50">5</text>
<text x="354.80" y="77.30" font-size="10.50">Gyr</text>
</g>
<g opacity="0.999">
<text transform="translate(41.95 294.60) scale(0.920 1)" text-anchor="middle" font-size="11.50">10<tspan font-size="7.40" dy="-4.20">-2</tspan></text>
<text transform="translate(101.53 294.60) scale(0.920 1)" text-anchor="middle" font-size="11.50">10<tspan font-size="7.40" dy="-4.20">-1</tspan></text>
<text transform="translate(161.12 294.60) scale(0.920 1)" text-anchor="middle" font-size="11.50">10<tspan font-size="7.40" dy="-4.20">0</tspan></text>
<text transform="translate(220.70 294.60) scale(0.920 1)" text-anchor="middle" font-size="11.50">10<tspan font-size="7.40" dy="-4.20">1</tspan></text>
<text transform="translate(280.28 294.60) scale(0.920 1)" text-anchor="middle" font-size="11.50">10<tspan font-size="7.40" dy="-4.20">2</tspan></text>
<text transform="translate(339.87 294.60) scale(0.920 1)" text-anchor="middle" font-size="11.50">10<tspan font-size="7.40" dy="-4.20">3</tspan></text>
<text transform="translate(399.45 294.60) scale(0.920 1)" text-anchor="middle" font-size="11.50">10<tspan font-size="7.40" dy="-4.20">4</tspan></text>
<text transform="translate(38.50 15.80) scale(0.920 1)" text-anchor="end" font-size="11.50">10<tspan font-size="7.40" dy="-4.20">-10</tspan></text>
<text transform="translate(38.50 87.20) scale(0.920 1)" text-anchor="end" font-size="11.50">10<tspan font-size="7.40" dy="-4.20">-12</tspan></text>
<text transform="translate(38.50 158.60) scale(0.920 1)" text-anchor="end" font-size="11.50">10<tspan font-size="7.40" dy="-4.20">-14</tspan></text>
<text transform="translate(38.50 230.00) scale(0.920 1)" text-anchor="end" font-size="11.50">10<tspan font-size="7.40" dy="-4.20">-16</tspan></text>
<text x="220" y="306.8" text-anchor="middle" font-size="10.8" font-style="italic">p = P<tspan font-size="7" dy="2">e</tspan><tspan dy="-2"> / m</tspan><tspan font-size="7" dy="2">e</tspan><tspan dy="-2">c</tspan></text>
<text transform="translate(10.7 180.0) rotate(-90)" text-anchor="start" font-size="10.95"><tspan font-style="italic">p f</tspan><tspan font-size="7.0" dy="3.0">CRe</tspan><tspan dy="-3.0">(</tspan><tspan font-style="italic">p</tspan>) [cm<tspan font-size="7.2" dy="-4.4">-3</tspan><tspan dy="4.4">]</tspan></text>
</g>
</svg>
</body>
</html>
